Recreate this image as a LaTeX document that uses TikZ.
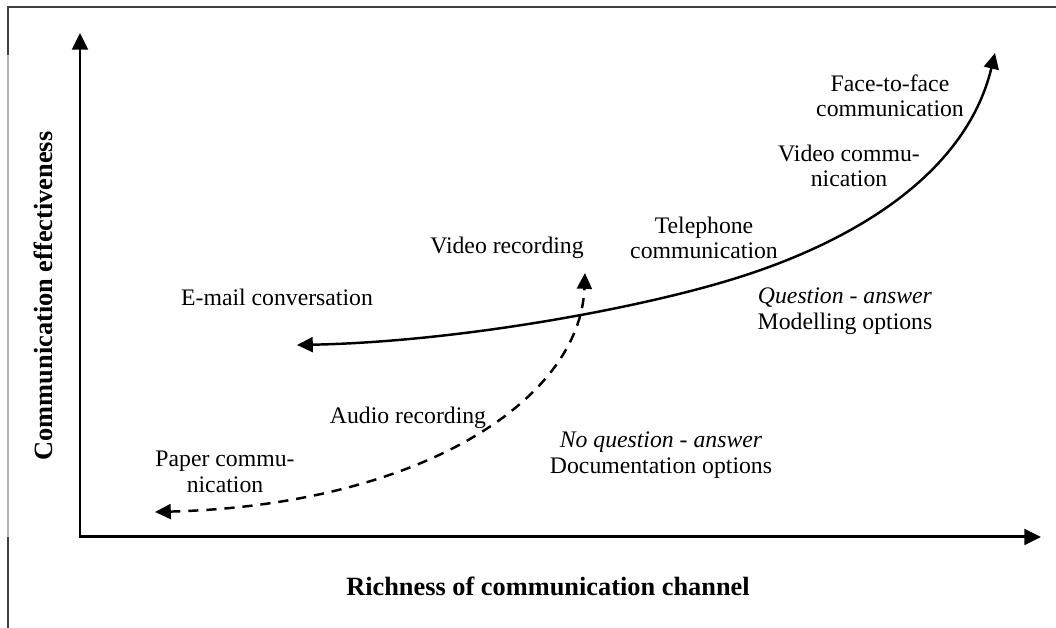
\documentclass[tikz,border=0pt]{standalone}
\usepackage{fontspec}
\setmainfont{Liberation Serif}
\usetikzlibrary{arrows.meta}

\begin{document}
\begin{tikzpicture}[
  axis/.style={line width=1.7pt, {Triangle[length=9.5pt,width=9pt]}-{Triangle[length=9.5pt,width=9pt]}},
  trend/.style={line width=1.4pt, {Triangle[length=9pt,width=8.5pt]}-{Triangle[length=9pt,width=8.5pt]}},
  lbl/.style={font=\fontsize{13.5}{14.5}\selectfont, align=center, inner sep=1pt},
  axislbl/.style={font=\fontsize{15}{18}\selectfont\bfseries, inner sep=1pt}
]
\useasboundingbox (0,0) rectangle (21.12,12.56);
\draw[line width=0.6pt, black!75] (0.16,0) -- (0.16,1.82);
\draw[line width=0.6pt, black!30] (0.16,1.82) -- (0.16,11.46);
\draw[line width=0.6pt, black!75] (0.16,11.46) -- (0.16,12.42) -- (21.12,12.42);

\coordinate (o) at (1.6,1.82);
\coordinate (ytip) at (1.6,11.9);
\coordinate (xtip) at (20.82,1.82);
\draw[axis] (ytip) -- (o) -- (xtip);
\node[axislbl, rotate=90] (ylab) at (0.86,6.64) {Communication effectiveness};
\node[axislbl] (xlab) at (10.96,0.84) {Richness of communication channel};

\coordinate (lo) at (5.94,5.66);
\coordinate (mid) at (14.4,6.9);
\coordinate (hi) at (19.9,11.5);
\draw[trend] (lo) .. controls (9.0,5.72) and (12.4,6.32) .. (mid)
  .. controls (16.9,7.62) and (19.3,9.0) .. (hi);

\coordinate (dlo) at (3.1,2.32);
\coordinate (dhi) at (11.7,7.1);
\draw[trend, dash pattern=on 5.8pt off 4.5pt] (dlo) .. controls (8.4,2.46) and (11.6,4.56) .. (dhi);

\node[lbl] (ftf) at (17.8,10.64) {Face-to-face\\communication};
\node[lbl] (vcom) at (16.98,9.24) {Video commu-\\nication};
\node[lbl] (tel) at (14.08,7.8) {Telephone\\communication};
\node[lbl] (vrec) at (10.14,7.6) {Video recording};
\node[lbl] (mail) at (5.54,6.62) {E-mail conversation};
\node[lbl] (qa) at (16.9,6.34) {\textit{Question - answer}\\Modelling options};
\node[lbl] (audio) at (8.16,4.2) {Audio recording};
\node[lbl] (paper) at (4.5,3.12) {Paper commu-\\nication};
\node[lbl] (noqa) at (13.22,3.46) {\textit{No question - answer}\\Documentation options};
\end{tikzpicture}
\end{document}
